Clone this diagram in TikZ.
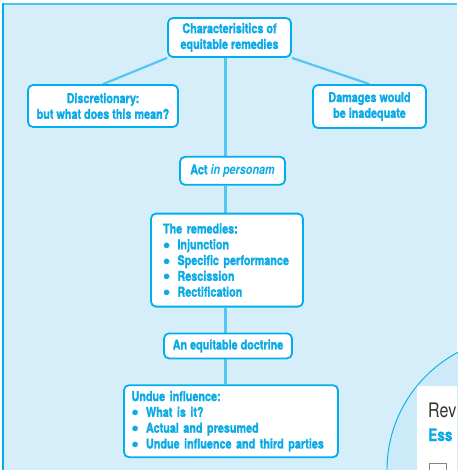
\documentclass[tikz,border=0pt]{standalone}
\usepackage{fontspec}
\setmainfont{TeX Gyre Heros}[FakeStretch=0.8, BoldFeatures={FakeBold=1.5}]
\usetikzlibrary{
  calc,
  positioning,
  backgrounds
}
\definecolor{paneblue}{HTML}{D6EEFA}
\definecolor{discblue}{HTML}{CCEAF8}
\definecolor{frameblue}{HTML}{00AEEF}
\definecolor{linkblue}{HTML}{55C6F0}
\definecolor{inkblue}{HTML}{0AAAE6}
\definecolor{greyink}{HTML}{333333}
\tikzset{
  box/.style={draw=frameblue, line width=1.8pt, rounded corners=5pt, fill=white,
    text=inkblue, font=\fontsize{13.5}{15.8}\selectfont\bfseries, align=center, inner sep=0pt},
  listbox/.style={box, align=left},
  link/.style={draw=linkblue, line width=2.2pt}
}
\newcommand{\bul}[1][14.5pt]{\makebox[#1][l]{$\bullet$}}

\begin{document}
\begin{tikzpicture}[x=1pt,y=-1pt]
      \useasboundingbox (0,0) rectangle (457,470);
      \clip (0,0) rectangle (457,470);

      % boxes
      \node[box, minimum width=123pt, minimum height=39pt] (top) at (229.5,37.5) {Characterisitics of\\equitable remedies};
      \node[box, minimum width=150pt, minimum height=42pt] (disc) at (103,106) {Discretionary:\\but what does this mean?};
      \node[box, minimum width=113pt, minimum height=43pt] (dam) at (369.5,106.5) {Damages would\\be inadequate};
      \node[box, minimum width=105pt, minimum height=28pt, below=98pt of top, xshift=3pt] (act) {Act \textit{in personam}};
      \node[listbox, text width=128pt, inner xsep=12pt, minimum height=93pt, below=27pt of act, xshift=-5.5pt] (rem)
        {The remedies:\\\bul Injunction\\\bul Specific performance\\\bul Rescission\\\bul Rectification};
      \node[box, minimum width=128pt, minimum height=25pt, below=25pt of rem, xshift=1pt] (doc) {An equitable doctrine};
      \node[listbox, text width=199pt, inner xsep=7.5pt, minimum height=72pt, below=25pt of doc, xshift=3pt] (und)
        {Undue influence:\\\bul What is it?\\\bul Actual and presumed\\\bul Undue influence and third parties};

      % spine of the chart
      \coordinate (spine) at (225.5,0);

      \begin{scope}[on background layer]
        % panel
        \fill[paneblue] (2,3) rectangle (457,470);
        \draw[frameblue!70, line width=2pt] (2,4) -- (457,4);
        \draw[frameblue, line width=2pt] (3,3) -- (3,470);

        % corner disc with the revision panel
        \draw[frameblue, line width=0.9pt, fill=discblue] (520,470) circle (133);

        % links
        \draw[link] (top.south west) -- (disc.north);
        \draw[link] (top.south east) -- (dam.north);
        \draw[link] (top.south -| spine) -- (act.north -| spine);
        \draw[link] (act.south -| spine) -- (rem.north -| spine);
        \draw[link] (rem.south -| spine) -- (doc.north -| spine);
        \draw[link] (doc.south -| spine) -- (und.north -| spine);
      \end{scope}

      % revision panel
      \fill[white] (417,386) rectangle (470,480);
      \node[anchor=base west, inner sep=0pt, text=greyink, font=\fontsize{20}{20}\selectfont] (rev) at (428,417) {Rev};
      \node[anchor=base west, inner sep=0pt, text=inkblue, font=\fontsize{17}{17}\selectfont\bfseries] (ess) at (428,441) {Ess};
      \draw[greyink!60, line width=0.8pt] (429,463) rectangle (446,478);
\end{tikzpicture}
\end{document}
